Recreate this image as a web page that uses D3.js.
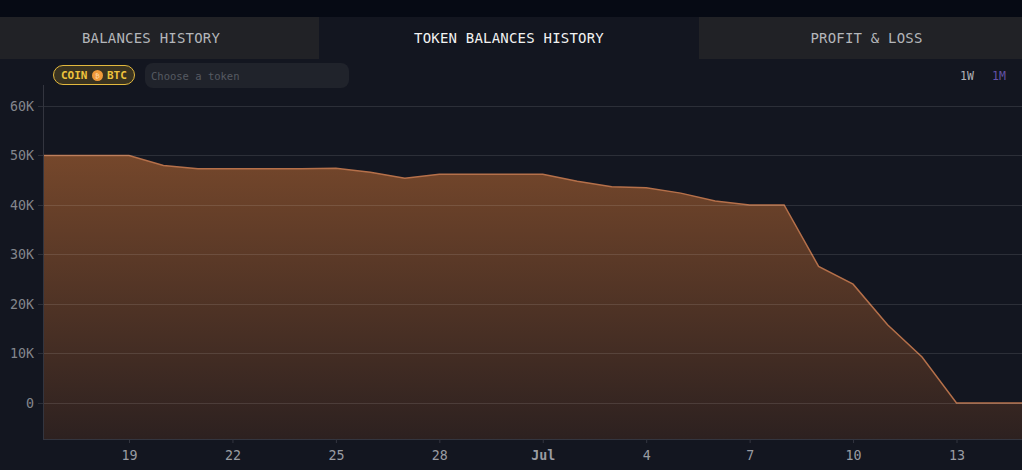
<!DOCTYPE html>
<html><head><meta charset="utf-8">
<script src="https://cdn.jsdelivr.net/npm/d3@7"></script>
<style>
html,body{margin:0;padding:0;background:#131620;overflow:hidden}
svg{display:block}
text{font-family:"DejaVu Sans Mono",monospace}
</style></head><body>
<svg id="c" width="1022" height="470"></svg>
<script>
const dates = ["2023-06-16","2023-06-17","2023-06-18","2023-06-19","2023-06-20","2023-06-21","2023-06-22","2023-06-23","2023-06-24","2023-06-25","2023-06-26","2023-06-27","2023-06-28","2023-06-29","2023-06-30","2023-07-01","2023-07-02","2023-07-03","2023-07-04","2023-07-05","2023-07-06","2023-07-07","2023-07-08","2023-07-09","2023-07-10","2023-07-11","2023-07-12","2023-07-13","2023-07-14","2023-07-15"];
const balances = [50000,50000,50000,50000,48000,47300,47300,47300,47300,47400,46600,45400,46200,46200,46200,46200,44800,43700,43500,42400,40800,40000,40000,27600,24000,15800,9300,0,0,0];
const yTicks = [0,10000,20000,30000,40000,50000,60000];
const xTicks = ["2023-06-19","2023-06-22","2023-06-25","2023-06-28","2023-07-01","2023-07-04","2023-07-07","2023-07-10","2023-07-13"];
const tabs = ["BALANCES HISTORY","TOKEN BALANCES HISTORY","PROFIT & LOSS"];
const ranges = ["1W","1M"];

const parse = d3.utcParse("%Y-%m-%d");
const rows = dates.map((d,i)=>({date:parse(d),value:balances[i]}));
const svg = d3.select("#c");
const L=43,R=1022,T=85,B=439;
const x0=parse("2023-06-19"), x1=parse("2023-07-13");
const x = d3.scaleUtc().domain([x0,x1]).range([129,956.5]);
const y = d3.scaleLinear().domain([0,60000]).range([403,106]);

svg.append("rect").attr("width",1022).attr("height",470).attr("fill","#131620");
svg.append("rect").attr("width",1022).attr("height",17).attr("fill","#060a14");

// tabs
const tabBands=[[0,319],[319,699],[699,1022]];
const tabLabelX=[151,509,866.5];
tabs.forEach((t,i)=>{
  const [a,b]=tabBands[i];
  svg.append("rect").attr("x",a).attr("y",17).attr("width",b-a).attr("height",42).attr("fill",i===1?"#131620":"#212226");
  svg.append("text").attr("x",tabLabelX[i]).attr("y",43).attr("text-anchor","middle")
    .attr("font-size",14).attr("letter-spacing",0.2).attr("fill",i===1?"#f2f2f2":"#b4b6ba").text(t);
});

// pill
svg.append("rect").attr("x",53.5).attr("y",65.5).attr("width",81).attr("height",19).attr("rx",9.5)
  .attr("fill","#3a3320").attr("stroke","#e3b93e").attr("stroke-width",1);
svg.append("text").attr("x",61).attr("y",79).attr("font-size",11).attr("font-weight",700).attr("fill","#eec23c").text("COIN");
svg.append("circle").attr("cx",97.5).attr("cy",75.5).attr("r",5.5).attr("fill","#f09a3a");
svg.append("text").attr("x",97.5).attr("y",78).attr("text-anchor","middle").attr("font-size",7).attr("fill","#ffd9a8").text("₿");
svg.append("text").attr("x",107).attr("y",79).attr("font-size",11).attr("font-weight",700).attr("fill","#eec23c").text("BTC");
// input
svg.append("rect").attr("x",145).attr("y",63).attr("width",204).attr("height",25).attr("rx",8).attr("fill","#20232b");
svg.append("text").attr("x",151).attr("y",80).attr("font-size",10.5).attr("fill","#565a62").text("Choose a token");
// ranges
ranges.forEach((r,i)=>{
  svg.append("text").attr("x",[960,992][i]).attr("y",80).attr("font-size",11.5)
    .attr("fill",i===0?"#b0b2b7":"#6352a8").text(r);
});

// gradient
const grad=svg.append("defs").append("linearGradient").attr("id","g").attr("x1",0).attr("x2",0).attr("y1",0).attr("y2",1)
  .attr("gradientUnits","objectBoundingBox");
grad.append("stop").attr("offset",0).attr("stop-color","#75472b");
grad.append("stop").attr("offset",1).attr("stop-color","#2d2120");

svg.append("clipPath").attr("id","cp").append("rect").attr("x",L).attr("y",T).attr("width",R-L).attr("height",B-T);
const plot=svg.append("g").attr("clip-path","url(#cp)");
const area=d3.area().x(d=>x(d.date)).y0(B).y1(d=>y(d.value));
const line=d3.line().x(d=>x(d.date)).y(d=>y(d.value));
plot.append("path").datum(rows).attr("d",area).attr("fill","url(#g)");

// grid
const yAxis=d3.axisLeft(y).tickValues(yTicks).tickSize(0).tickPadding(9)
  .tickFormat(d=>d===0?"0":(d/1000)+"K");
const gy=svg.append("g").attr("transform",`translate(${L},0)`).call(yAxis);
gy.select(".domain").remove();
gy.selectAll("text").attr("font-size",13.3).attr("fill","#84868d").attr("font-family","DejaVu Sans Mono");
svg.append("g").selectAll("line").data(yTicks).join("line")
  .attr("x1",L-5).attr("x2",R).attr("y1",d=>Math.floor(y(d))+.5).attr("y2",d=>Math.floor(y(d))+.5)
  .attr("stroke","#fff").attr("stroke-opacity",.11);

plot.append("path").datum(rows).attr("d",line).attr("fill","none").attr("stroke","#b5704a").attr("stroke-width",1.5);

// axes lines
svg.append("line").attr("x1",L+.5).attr("x2",L+.5).attr("y1",T).attr("y2",B).attr("stroke","#33353f");
svg.append("line").attr("x1",L).attr("x2",R).attr("y1",B+.5).attr("y2",B+.5).attr("stroke","#33353f");

const xAxis=d3.axisBottom(x).tickValues(xTicks.map(parse)).tickSize(4).tickPadding(8)
  .tickFormat(d=>d.getUTCDate()===1?d3.utcFormat("%b")(d):d3.utcFormat("%-d")(d));
const gx=svg.append("g").attr("transform",`translate(0,${B})`).call(xAxis);
gx.select(".domain").remove();
gx.selectAll("line").attr("stroke","#33353f");
gx.selectAll("text").attr("font-size",13.3).attr("fill","#9a9ca3").attr("font-family","DejaVu Sans Mono")
  .attr("font-weight",d=>d.getUTCDate()===1?700:400);
</script>
</body></html>
